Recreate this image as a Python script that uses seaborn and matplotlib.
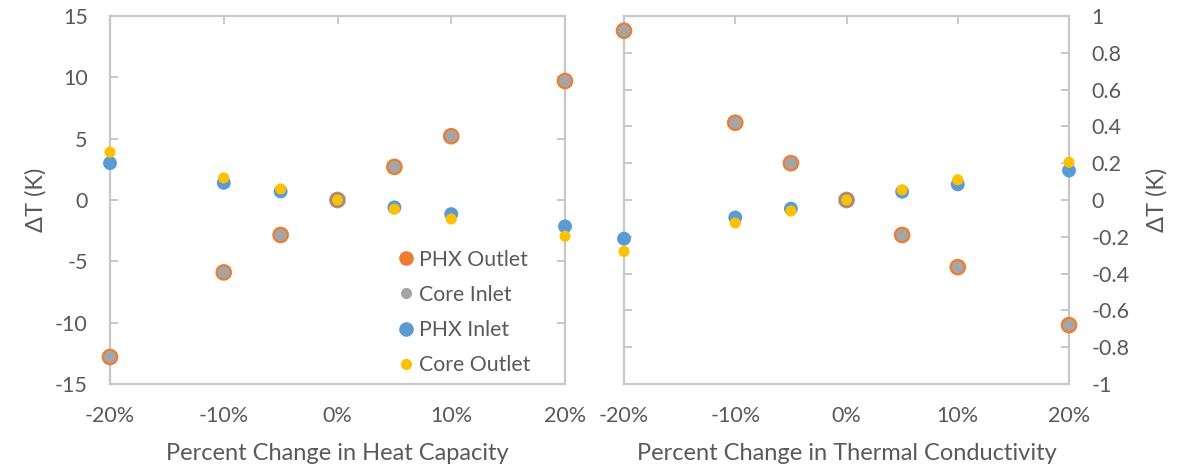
import matplotlib
matplotlib.use("Agg")
import matplotlib.pyplot as plt
import seaborn as sns
import pandas as pd
import numpy as np
from matplotlib.lines import Line2D

# ---- data ----
pct_change = [-20, -10, -5, 0, 5, 10, 20]
x_tick_values = [-20, -10, 0, 10, 20]
x_tick_labels = ["-20%", "-10%", "0%", "10%", "20%"]

series_names = ["PHX Outlet", "Core Inlet", "PHX Inlet", "Core Outlet"]

# Heat capacity sensitivity
hc_phx_outlet = [-12.8, -5.9, -2.85, 0.0, 2.7, 5.2, 9.7]
hc_core_inlet = [-12.8, -5.9, -2.85, 0.0, 2.7, 5.2, 9.7]
hc_phx_inlet = [3.0, 1.4, 0.7, 0.0, -0.6, -1.15, -2.15]
hc_core_outlet = [3.9, 1.8, 0.9, 0.0, -0.75, -1.55, -2.95]

# Thermal conductivity sensitivity
tc_phx_outlet = [0.92, 0.42, 0.20, 0.0, -0.19, -0.365, -0.68]
tc_core_inlet = [0.92, 0.42, 0.20, 0.0, -0.19, -0.365, -0.68]
tc_phx_inlet = [-0.21, -0.095, -0.047, 0.0, 0.045, 0.085, 0.16]
tc_core_outlet = [-0.28, -0.125, -0.06, 0.0, 0.055, 0.11, 0.205]

hc_yticks = [-15, -10, -5, 0, 5, 10, 15]
hc_ytick_labels = ["-15", "-10", "-5", "0", "5", "10", "15"]
tc_yticks = [-1, -0.8, -0.6, -0.4, -0.2, 0, 0.2, 0.4, 0.6, 0.8, 1]
tc_ytick_labels = ["-1", "-0.8", "-0.6", "-0.4", "-0.2", "0", "0.2", "0.4", "0.6", "0.8", "1"]

# ---- style ----
sns.set_theme(style="white")
plt.rcParams["font.family"] = ["Lato", "DejaVu Sans"]
plt.rcParams["axes.unicode_minus"] = False

colors = {"PHX Outlet": "#ED7D31", "Core Inlet": "#A5A5A5",
          "PHX Inlet": "#5B9BD5", "Core Outlet": "#FFC000"}
sizes = {"PHX Outlet": 12.0, "Core Inlet": 8.8, "PHX Inlet": 10.0, "Core Outlet": 8.0}
text_color = "#595959"
spine_color = "#C8C8C8"
tick_fs = 15.5
label_fs = 17.0
legend_fs = 15.3

W, H = 1183, 469
fig = plt.figure(figsize=(W / 100, H / 100), dpi=100)
ax1 = fig.add_axes([110 / W, 1 - 384 / H, (565 - 110) / W, (384 - 16) / H])
ax2 = fig.add_axes([624 / W, 1 - 384 / H, (1069 - 624) / W, (384 - 16) / H])


def draw(ax, data):
    df = pd.DataFrame({"x": pct_change * 4,
                       "y": sum(data, []),
                       "series": np.repeat(series_names, len(pct_change))})
    for name in series_names:
        sub = df[df.series == name]
        sns.scatterplot(data=sub, x="x", y="y", ax=ax, color=colors[name],
                        s=sizes[name] ** 2, edgecolor="none", linewidth=0,
                        clip_on=False, zorder=3, legend=False)
    ax.set_xlim(-20, 20)
    ax.set_xticks(x_tick_values)
    ax.set_xticklabels(x_tick_labels)
    for s in ax.spines.values():
        s.set_color(spine_color)
        s.set_linewidth(1.6)
        s.set_visible(True)
    ax.tick_params(axis="both", which="both", direction="in", color=spine_color,
                   width=1.4, length=6, labelcolor=text_color, labelsize=tick_fs)
    ax.tick_params(axis="x", bottom=False, top=True, pad=16)
    ax.grid(False)


draw(ax1, [hc_phx_outlet, hc_core_inlet, hc_phx_inlet, hc_core_outlet])
draw(ax2, [tc_phx_outlet, tc_core_inlet, tc_phx_inlet, tc_core_outlet])

ax1.set_ylim(-15, 15)
ax1.set_yticks(hc_yticks)
ax1.set_yticklabels(hc_ytick_labels)
ax1.tick_params(axis="y", left=True, right=True, labelleft=True, labelright=False, pad=16)
ax1.set_xlabel("Percent Change in Heat Capacity", color=text_color, fontsize=label_fs, labelpad=12)
ax1.set_ylabel("ΔT (K)", color=text_color, fontsize=label_fs, labelpad=6)

ax2.set_ylim(-1, 1)
ax2.set_yticks(tc_yticks)
ax2.set_yticklabels(tc_ytick_labels)
ax2.tick_params(axis="y", left=True, right=True, labelleft=False, labelright=True, pad=16)
ax2.yaxis.set_label_position("right")
ax2.set_xlabel("Percent Change in Thermal Conductivity", color=text_color, fontsize=label_fs, labelpad=12)
ax2.set_ylabel("ΔT (K)", color=text_color, fontsize=label_fs, labelpad=12, rotation=90)

# legend
legend_marker = {"PHX Outlet": 10.5, "Core Inlet": 8.0, "PHX Inlet": 10.5, "Core Outlet": 8.0}
handles = [Line2D([], [], linestyle="none", marker="o", markersize=legend_marker[n],
                  markerfacecolor=colors[n], markeredgecolor="none") for n in series_names]
leg = ax1.legend(handles, series_names, loc="upper left",
                 bbox_to_anchor=((385 - 110) / (565 - 110), (384 - 241) / (384 - 16)),
                 frameon=False, fontsize=legend_fs, labelspacing=0.72, handletextpad=0.0,
                 handlelength=1.2, borderaxespad=0)
for t in leg.get_texts():
    t.set_color(text_color)

fig.savefig("out.png", dpi=100)
